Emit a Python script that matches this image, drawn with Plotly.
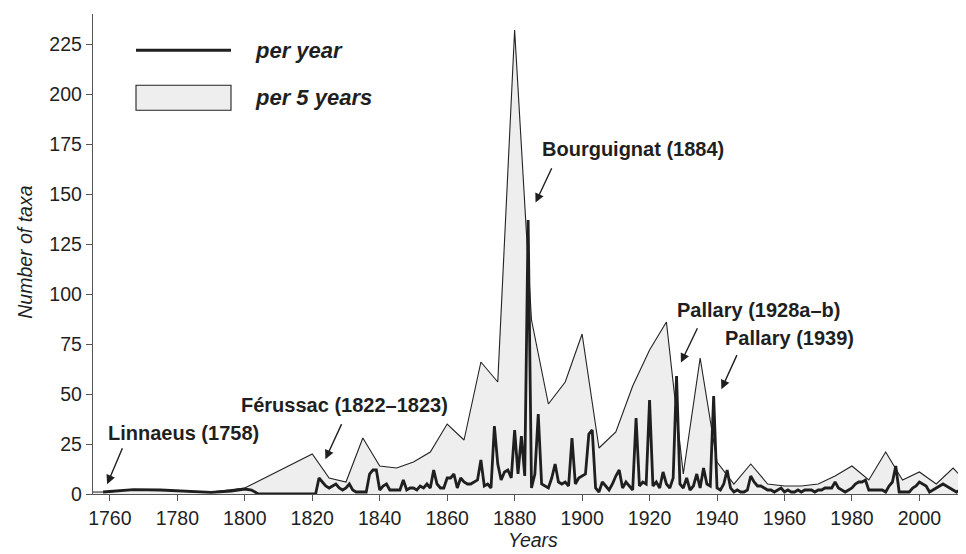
import plotly.graph_objects as go

# ---------------- data ----------------
# per 5 years (plotted at the first year of each period)
five_year_years = [1755, 1760, 1765, 1770, 1775, 1780, 1785, 1790, 1795, 1800,
                   1820, 1825, 1830, 1835, 1840, 1845, 1850, 1855, 1860, 1865,
                   1870, 1875, 1880, 1885, 1890, 1895, 1900, 1905, 1910, 1915,
                   1920, 1925, 1930, 1935, 1940, 1945, 1950, 1955, 1960, 1965,
                   1970, 1975, 1980, 1985, 1990, 1995, 2000, 2005, 2010, 2015]
five_year_values = [1, 1, 2, 2, 2, 1.5, 1, 1, 2, 3,
                    20, 8, 6, 28, 14, 13, 16, 21, 35, 27,
                    66, 56, 232, 87, 45, 56, 80, 23, 31, 54,
                    72, 86, 10, 68, 16, 5, 15, 5, 4, 4,
                    5, 9, 14, 7, 21, 7, 11, 5, 13, 4]

# per year
early_years = [1758, 1767, 1775, 1783, 1790, 1796, 1800, 1802, 1804, 1821]
early_values = [1, 2.2, 2, 1.5, 0.8, 1.5, 2.5, 2, 0, 0]
annual_years = list(range(1822, 2016))
annual_values = [
    8, 6, 4, 3, 4, 5, 3, 2,                      # 1822-1829
    3, 5, 2, 1, 1, 1, 1, 10, 12, 12,             # 1830s
    2, 4, 5, 2, 2, 2, 2, 7, 2, 3,                # 1840s
    3, 2, 4, 3, 5, 3, 12, 5, 3, 3,               # 1850s
    8, 8, 10, 3, 8, 6, 5, 5, 6, 7,               # 1860s
    17, 4, 5, 3, 34, 15, 7, 11, 12, 8,           # 1870s
    32, 10, 29, 9, 137, 3, 10, 40, 5, 4,         # 1880s
    3, 8, 15, 6, 5, 6, 4, 28, 5, 8,              # 1890s
    9, 10, 30, 32, 3, 1, 6, 4, 2, 5,             # 1900s
    9, 12, 3, 6, 4, 2, 38, 4, 6, 5,              # 1910s
    47, 4, 6, 3, 11, 5, 3, 8, 59, 5,             # 1920s
    3, 8, 2, 4, 10, 3, 13, 5, 4, 49,             # 1930s
    3, 2, 5, 12, 3, 1, 2, 1, 1, 2,               # 1940s
    9, 6, 4, 4, 3, 2, 2, 1, 2, 3,                # 1950s
    1, 2, 1, 1, 2, 1, 2, 2, 2, 1,                # 1960s
    2, 2, 3, 3, 3, 6, 3, 2, 1, 2,                # 1970s
    3, 5, 6, 6, 7, 2, 2, 2, 2, 2,                # 1980s
    1, 4, 6, 14, 1, 1, 1, 1, 3, 4,               # 1990s
    6, 5, 4, 1, 2, 3, 4, 5, 4, 3,                # 2000s
    2, 1, 2, 2, 10, 4,                           # 2010-2015
]
assert len(annual_values) == len(annual_years)
per_year_years = early_years + annual_years
per_year_values = early_values + annual_values

y_tick_values = [0, 25, 50, 75, 100, 125, 150, 175, 200, 225]
x_tick_values = [1760, 1780, 1800, 1820, 1840, 1860, 1880, 1900, 1920, 1940, 1960, 1980, 2000]

labels = ["Linnaeus (1758)", "Férussac (1822–1823)", "Bourguignat (1884)",
          "Pallary (1928a–b)", "Pallary (1939)"]

FONT = "Liberation Sans, Arial, Helvetica, sans-serif"
INK = "#1f1f1f"

fig = go.Figure()
fig.add_trace(go.Scatter(
    x=five_year_years, y=five_year_values, mode="lines",
    line=dict(color="#222222", width=1.1), fill="tozeroy", fillcolor="#eeeeee",
    showlegend=False, hoverinfo="skip"))
fig.add_trace(go.Scatter(
    x=per_year_years, y=per_year_values, mode="lines",
    line=dict(color=INK, width=2.8), showlegend=False, hoverinfo="skip"))

# label text placement and arrows (data coordinates)
text_pos = [(1781.7, 30.7), (1829.6, 44.3), (1915.0, 172.4), (1952.2, 92.2), (1961.6, 78.2)]
arrows = [((1763.9, 23.6), (1759.2, 4.9)),
          ((1828.9, 35.7), (1823.9, 17.4)),
          ((1891.2, 163.6), (1886.2, 145.7)),
          ((1934.4, 83.6), (1929.3, 65.7)),
          ((1946.1, 70.2), (1941.3, 52.4))]
for lab, (tx, ty), ((ax, ay), (hx, hy)) in zip(labels, text_pos, arrows):
    fig.add_annotation(x=tx, y=ty, text=f"<b>{lab}</b>", showarrow=False,
                       font=dict(family=FONT, size=20, color=INK),
                       xanchor="center", yanchor="middle")
    fig.add_annotation(x=hx, y=hy, ax=ax, ay=ay, axref="x", ayref="y",
                       xref="x", yref="y", text="", showarrow=True,
                       arrowhead=2, arrowsize=1.3, arrowwidth=1.4, arrowcolor=INK)

# legend drawn manually
L = 85; R = 962; T = 6; B = 486.5
def px(v): return (v - L) / (R - L)
def py(v): return (B - v) / (B - T)
fig.add_shape(type="line", xref="paper", yref="paper",
              x0=px(128), x1=px(223), y0=py(42.3), y1=py(42.3),
              line=dict(color=INK, width=2.8))
fig.add_shape(type="rect", xref="paper", yref="paper",
              x0=px(128), x1=px(223), y0=py(77.3), y1=py(102.3),
              line=dict(color="#222222", width=1.1), fillcolor="#eeeeee")
fig.add_annotation(xref="paper", yref="paper", x=px(245), y=py(43),
                   text="<b><i>per year</i></b>", showarrow=False,
                   xanchor="left", yanchor="middle",
                   font=dict(family=FONT, size=22, color=INK))
fig.add_annotation(xref="paper", yref="paper", x=px(245), y=py(90),
                   text="<b><i>per 5 years</i></b>", showarrow=False,
                   xanchor="left", yanchor="middle",
                   font=dict(family=FONT, size=22, color=INK))

# axis titles
fig.add_annotation(xref="paper", yref="paper", x=px(17), y=py(245),
                   text="<i>Number of taxa</i>", showarrow=False, textangle=-90,
                   xanchor="center", yanchor="middle",
                   font=dict(family=FONT, size=19.5, color=INK))
fig.add_annotation(xref="paper", yref="paper", x=px(525), y=py(533),
                   text="<i>Years</i>", showarrow=False,
                   xanchor="center", yanchor="middle",
                   font=dict(family=FONT, size=19.5, color=INK))

axis_common = dict(showgrid=False, zeroline=False, showline=True,
                   linecolor="#555555", linewidth=1.4, ticks="outside",
                   ticklen=6, tickwidth=1.2, tickcolor="#555555",
                   tickfont=dict(family=FONT, size=19.5, color=INK),
                   automargin=False)
fig.update_xaxes(range=[1755, 2015], tickvals=x_tick_values, **axis_common)
fig.update_yaxes(range=[0, 240], tickvals=y_tick_values, **axis_common)

fig.update_layout(width=966, height=554,
                  margin=dict(l=L, r=966 - R, t=T, b=554 - B),
                  paper_bgcolor="white", plot_bgcolor="white",
                  showlegend=False)

fig.write_html("out.html")
